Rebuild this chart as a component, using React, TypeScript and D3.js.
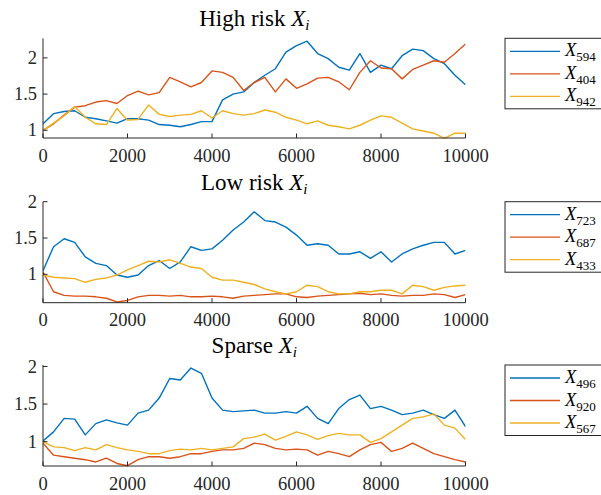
import React from "react";
import * as d3 from "d3";

// Sample iterations (x values)
const iterations = [
  0, 250, 500, 750, 1000, 1250, 1500, 1750, 2000, 2250, 2500, 2750, 3000, 3250,
  3500, 3750, 4000, 4250, 4500, 4750, 5000, 5250, 5500, 5750, 6000, 6250, 6500,
  6750, 7000, 7250, 7500, 7750, 8000, 8250, 8500, 8750, 9000, 9250, 9500, 9750,
  10000,
];

// High risk panel
const high594 = [
  1.09, 1.23, 1.26, 1.27, 1.18, 1.16, 1.13, 1.1, 1.16, 1.16, 1.14, 1.08, 1.07,
  1.05, 1.08, 1.12, 1.12, 1.42, 1.5, 1.53, 1.66, 1.76, 1.85, 2.08, 2.17, 2.23,
  2.06, 1.99, 1.87, 1.83, 2.06, 1.8, 1.9, 1.85, 2.03, 2.12, 2.1, 1.99, 1.92,
  1.76, 1.63,
];
const high404 = [
  1.0, 1.09, 1.21, 1.32, 1.34, 1.39, 1.41, 1.37, 1.48, 1.54, 1.49, 1.52, 1.73,
  1.67, 1.6, 1.66, 1.82, 1.8, 1.73, 1.55, 1.66, 1.73, 1.53, 1.71, 1.58, 1.64,
  1.72, 1.73, 1.67, 1.56, 1.8, 1.96, 1.86, 1.85, 1.71, 1.84, 1.9, 1.96, 1.94,
  2.06, 2.19,
];
const high942 = [
  1.0, 1.1, 1.2, 1.33, 1.18, 1.09, 1.08, 1.3, 1.14, 1.15, 1.35, 1.22, 1.19,
  1.21, 1.22, 1.27, 1.17, 1.27, 1.23, 1.21, 1.23, 1.28, 1.25, 1.18, 1.14, 1.09,
  1.13, 1.07, 1.05, 1.02, 1.07, 1.14, 1.2, 1.18, 1.1, 1.02, 0.99, 0.96, 0.89,
  0.96, 0.96,
];

// Low risk panel
const low723 = [
  1.05, 1.38, 1.49, 1.44, 1.24, 1.15, 1.12, 0.99, 0.96, 0.99, 1.12, 1.19, 1.08,
  1.17, 1.38, 1.33, 1.35, 1.47, 1.61, 1.72, 1.86, 1.74, 1.72, 1.65, 1.54, 1.4,
  1.42, 1.4, 1.28, 1.28, 1.31, 1.22, 1.31, 1.17, 1.28, 1.35, 1.4, 1.44, 1.44,
  1.28, 1.33,
];
const low687 = [
  1.03, 0.76, 0.71, 0.7, 0.7, 0.69, 0.67, 0.62, 0.64, 0.69, 0.71, 0.71, 0.7,
  0.71, 0.69, 0.69, 0.7, 0.69, 0.67, 0.7, 0.71, 0.72, 0.73, 0.73, 0.69, 0.68,
  0.7, 0.71, 0.72, 0.73, 0.74, 0.72, 0.73, 0.71, 0.7, 0.71, 0.71, 0.73, 0.72,
  0.68, 0.72,
];
const low433 = [
  0.99, 0.96, 0.95, 0.94, 0.89, 0.93, 0.95, 0.99, 1.06, 1.12, 1.18, 1.17, 1.2,
  1.15, 1.1, 1.08, 0.96, 0.92, 0.92, 0.89, 0.86, 0.8, 0.76, 0.73, 0.76, 0.85,
  0.83, 0.76, 0.73, 0.73, 0.76, 0.76, 0.78, 0.78, 0.73, 0.85, 0.83, 0.78, 0.82,
  0.84, 0.85,
];

// Sparse panel
const sparse496 = [
  1.01, 1.13, 1.31, 1.3, 1.09, 1.24, 1.29, 1.25, 1.22, 1.38, 1.42, 1.58, 1.84,
  1.82, 1.98, 1.91, 1.58, 1.42, 1.4, 1.41, 1.42, 1.38, 1.38, 1.4, 1.38, 1.47,
  1.31, 1.24, 1.44, 1.56, 1.62, 1.44, 1.47, 1.42, 1.36, 1.38, 1.42, 1.36, 1.31,
  1.42, 1.2,
];
const sparse920 = [
  0.98, 0.82, 0.8, 0.78, 0.76, 0.73, 0.78, 0.71, 0.68, 0.76, 0.8, 0.8, 0.78,
  0.8, 0.84, 0.84, 0.87, 0.89, 0.89, 0.91, 0.98, 0.96, 0.91, 0.89, 0.9, 0.89,
  0.82, 0.87, 0.84, 0.8, 0.89, 0.96, 0.99, 0.87, 0.91, 0.98, 0.91, 0.84, 0.8,
  0.76, 0.73,
];
const sparse567 = [
  1.0, 0.93, 0.92, 0.88, 0.92, 0.89, 0.96, 0.92, 0.89, 0.87, 0.84, 0.84, 0.88,
  0.9, 0.89, 0.91, 0.89, 0.91, 0.93, 1.04, 1.06, 1.1, 1.02, 1.07, 1.13, 1.09,
  1.03, 1.08, 1.11, 1.09, 1.09, 0.99, 1.04, 1.13, 1.22, 1.31, 1.33, 1.37, 1.22,
  1.18, 1.03,
];

const panelTitles = ["High risk", "Low risk", "Sparse"];
const legendSubs = [
  ["594", "404", "942"],
  ["723", "687", "433"],
  ["496", "920", "567"],
];
const panelSeries = [
  [high594, high404, high942],
  [low723, low687, low433],
  [sparse496, sparse920, sparse567],
];
const yDomains: [number, number][] = [
  [0.894, 2.27],
  [0.609, 2.0],
  [0.676, 2.02],
];
const yTicks = [1, 1.5, 2];
const xTicks = [0, 2000, 4000, 6000, 8000, 10000];

const colors = ["#0072BD", "#D95319", "#EDB120"];
const axisColor = "#262626";
const font = "'Liberation Serif', 'Times New Roman', serif";

const panelTops = [38.3, 201.7, 365];
const panelBottoms = [138, 302.7, 466];
const left = 43;
const right = 465.5;

function Panel({ idx }: { idx: number }) {
  const top = panelTops[idx];
  const bottom = panelBottoms[idx];
  const x = d3.scaleLinear().domain([0, 10000]).range([left, right]);
  const y = d3.scaleLinear().domain(yDomains[idx]).range([bottom, top]);
  const line = d3
    .line<number>()
    .x((_, i) => x(iterations[i]))
    .y((v) => y(v));
  const clipId = `clip${idx}`;
  const legendY = [13, 35.5, 58];
  return (
    <g>
      <defs>
        <clipPath id={clipId}>
          <rect x={left} y={top - 1} width={right - left} height={bottom - top + 2} />
        </clipPath>
      </defs>
      {/* title */}
      <text
        x={(left + right) / 2}
        y={top - 12}
        textAnchor="middle"
        fontFamily={font}
        fontSize={23}
        fill="#000"
      >
        {panelTitles[idx] + " "}
        <tspan fontStyle="italic">X</tspan>
        <tspan fontStyle="italic" fontSize={15} dy={4}>
          i
        </tspan>
      </text>
      {/* lines */}
      <g clipPath={`url(#${clipId})`}>
        {panelSeries[idx].map((s, k) => (
          <path
            key={k}
            d={line(s) || ""}
            fill="none"
            stroke={colors[k]}
            strokeWidth={1.4}
            strokeLinejoin="round"
          />
        ))}
      </g>
      {/* axes */}
      <line x1={left} x2={left} y1={top} y2={bottom} stroke={axisColor} strokeWidth={1} />
      <line x1={left} x2={right} y1={bottom} y2={bottom} stroke={axisColor} strokeWidth={1} />
      {xTicks.map((t) => (
        <g key={t}>
          <line x1={x(t)} x2={x(t)} y1={bottom} y2={bottom - 4.5} stroke={axisColor} strokeWidth={1} />
          <text
            x={x(t)}
            y={bottom + 23.5}
            textAnchor="middle"
            fontFamily={font}
            fontSize={18.5}
            fill={axisColor}
          >
            {t}
          </text>
        </g>
      ))}
      {yTicks.map((t) => (
        <g key={t}>
          <line x1={left} x2={left + 4.5} y1={y(t)} y2={y(t)} stroke={axisColor} strokeWidth={1} />
          <text
            x={37}
            y={y(t) + 6}
            textAnchor="end"
            fontFamily={font}
            fontSize={18.5}
            fill={axisColor}
          >
            {t}
          </text>
        </g>
      ))}
      {/* legend */}
      <rect x={505} y={top} width={140} height={70.5} fill="#fff" stroke={axisColor} strokeWidth={1} />
      {legendSubs[idx].map((sub, k) => (
        <g key={sub}>
          <line
            x1={510}
            x2={560}
            y1={top + legendY[k]}
            y2={top + legendY[k]}
            stroke={colors[k]}
            strokeWidth={1.3}
          />
          <text x={565} y={top + legendY[k] + 5} fontFamily={font} fontSize={18.5} fill="#000">
            <tspan fontStyle="italic">X</tspan>
            <tspan fontSize={13} dy={5}>
              {sub}
            </tspan>
          </text>
        </g>
      ))}
    </g>
  );
}

export default function App() {
  return (
    <svg
      width={601}
      height={495}
      style={{ position: "absolute", left: 0, top: 0, background: "#fff" }}
    >
      <rect x={0} y={0} width={601} height={495} fill="#fff" />
      {[0, 1, 2].map((i) => (
        <Panel key={i} idx={i} />
      ))}
    </svg>
  );
}
